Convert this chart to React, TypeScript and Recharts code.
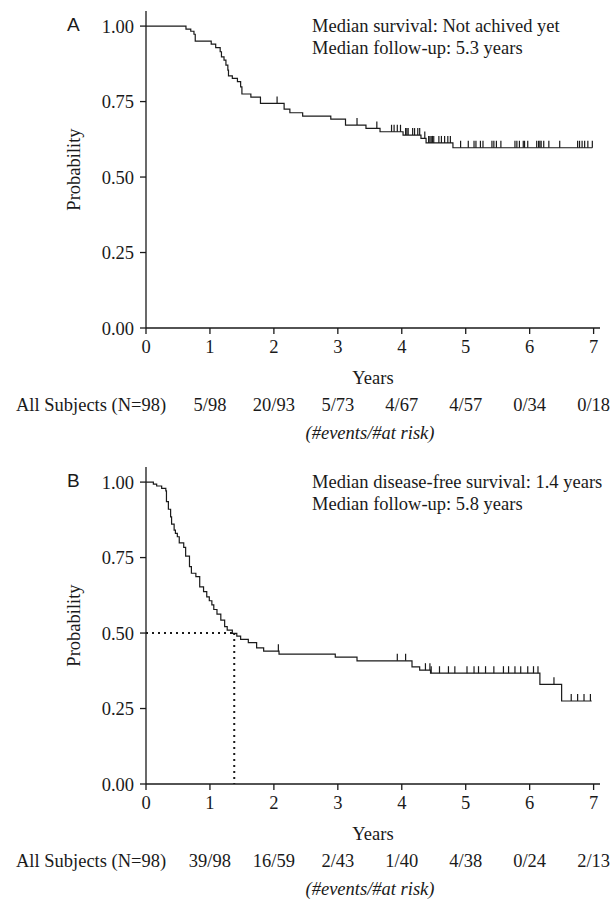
import React from "react";
import {
  ComposedChart,
  Line,
  Scatter,
  XAxis,
  YAxis,
  ReferenceLine
} from "recharts";

// Panel A: overall survival (step times in years, survival after each step)
const stepTimesA = [0, 0.625, 0.7, 0.75, 0.77, 1.02, 1.09, 1.16, 1.18, 1.22, 1.25, 1.28, 1.29, 1.35, 1.43, 1.48, 1.5, 1.64, 1.79, 2.16, 2.25, 2.45, 2.89, 3.12, 3.44, 3.66, 4.02, 4.3, 4.38, 4.8, 6.98];
const stepSurvA = [1, 0.99, 0.983, 0.973, 0.95, 0.94, 0.929, 0.915, 0.898, 0.887, 0.871, 0.854, 0.835, 0.827, 0.816, 0.799, 0.775, 0.765, 0.744, 0.725, 0.713, 0.702, 0.692, 0.672, 0.661, 0.65, 0.639, 0.628, 0.613, 0.597, 0.597];
const censorA = [2.05, 3.3, 3.61, 3.84, 3.88, 3.93, 3.98, 4.06, 4.08, 4.1, 4.17, 4.2, 4.25, 4.28, 4.36, 4.42, 4.44, 4.46, 4.48, 4.5, 4.58, 4.62, 4.67, 4.72, 4.76, 4.92, 5.04, 5.13, 5.16, 5.23, 5.27, 5.41, 5.44, 5.48, 5.55, 5.77, 5.8, 5.84, 5.9, 5.92, 5.97, 6.11, 6.14, 6.16, 6.18, 6.22, 6.3, 6.47, 6.75, 6.78, 6.82, 6.86, 6.91, 6.98];
const riskA = ["5/98", "20/93", "5/73", "4/67", "4/57", "0/34", "0/18"];
const notesA = ["Median survival: Not achived yet", "Median follow-up: 5.3 years"];

// Panel B: disease-free survival
const stepTimesB = [0, 0.115, 0.167, 0.245, 0.31, 0.32, 0.35, 0.385, 0.4, 0.44, 0.46, 0.49, 0.52, 0.59, 0.62, 0.68, 0.71, 0.78, 0.84, 0.9, 0.95, 0.99, 1.03, 1.06, 1.11, 1.17, 1.23, 1.27, 1.35, 1.42, 1.48, 1.6, 1.73, 1.84, 2.08, 2.96, 3.3, 4.16, 4.28, 4.45, 6.16, 6.5, 6.97];
const stepSurvB = [1, 0.993, 0.987, 0.979, 0.971, 0.935, 0.91, 0.885, 0.861, 0.841, 0.83, 0.819, 0.799, 0.784, 0.755, 0.72, 0.698, 0.687, 0.653, 0.637, 0.62, 0.607, 0.593, 0.578, 0.563, 0.543, 0.521, 0.51, 0.499, 0.49, 0.479, 0.468, 0.451, 0.44, 0.43, 0.42, 0.408, 0.388, 0.377, 0.367, 0.33, 0.275, 0.275];
const censorB = [2.07, 3.93, 4.06, 4.37, 4.44, 4.46, 4.59, 4.73, 4.83, 5.02, 5.13, 5.2, 5.31, 5.44, 5.59, 5.67, 5.77, 5.86, 5.97, 6.06, 6.13, 6.38, 6.65, 6.75, 6.85, 6.95];
const riskB = ["39/98", "16/59", "2/43", "1/40", "4/38", "0/24", "2/13"];
const notesB = ["Median disease-free survival: 1.4 years", "Median follow-up: 5.8 years"];
const medianB = 1.38;

const xTicks = [0, 1, 2, 3, 4, 5, 6, 7];
const yTicks = [0, 0.25, 0.5, 0.75, 1];

const CHART_W = 612;
const Y_AXIS_W = 146;
const RIGHT = 12;
const X_MAX = 7.1;
const SERIF = "'Liberation Serif', 'Times New Roman', serif";
const INK = "#1a1a1a";
const FS = 18.5;

const xPx = (t: number) => Y_AXIS_W + (t * (CHART_W - Y_AXIS_W - RIGHT)) / X_MAX;

function survAt(times: number[], surv: number[], t: number) {
  let s = surv[0];
  for (let i = 0; i < times.length; i++) if (times[i] <= t) s = surv[i];
  return s;
}

const CensorMark = (props: any) => {
  const { cx, cy } = props;
  return <line x1={cx} x2={cx} y1={cy} y2={cy - 7} stroke={INK} strokeWidth={1.2} />;
};

interface PanelProps {
  top: number;
  letter: string;
  times: number[];
  surv: number[];
  censor: number[];
  risk: string[];
  notes: string[];
  median?: number;
}

function Panel({ top, letter, times, surv, censor, risk, notes, median }: PanelProps) {
  const steps = times.map((t, i) => ({ t, s: surv[i] }));
  const marks = censor.map((t) => ({ t, s: survAt(times, surv, t) }));
  const tickStyle = { fill: INK, fontSize: FS, fontFamily: SERIF };
  const textStyle = { fontFamily: SERIF, fontSize: FS, color: INK, lineHeight: "20px", whiteSpace: "nowrap" as const };

  return (
    <div style={{ position: "absolute", left: 0, top, width: CHART_W, height: 450 }}>
      <ComposedChart width={CHART_W} height={388} margin={{ top: 11, right: RIGHT, left: 0, bottom: 0 }}>
        <XAxis
          type="number"
          dataKey="t"
          domain={[0, X_MAX]}
          ticks={xTicks}
          allowDataOverflow
          stroke={INK}
          strokeWidth={1.3}
          tickSize={6}
          tickMargin={6}
          tick={tickStyle}
          height={60}
          label={{ value: "Years", position: "insideBottom", offset: 4, fill: INK, fontSize: FS, fontFamily: SERIF }}
        />
        <YAxis
          type="number"
          dataKey="s"
          domain={[0, 1.05]}
          ticks={yTicks}
          allowDataOverflow
          tickFormatter={(v: number) => v.toFixed(2)}
          stroke={INK}
          strokeWidth={1.3}
          tickSize={6}
          tickMargin={6}
          tick={tickStyle}
          width={Y_AXIS_W}
          label={{
            value: "Probability",
            angle: -90,
            position: "insideLeft",
            offset: 73,
            fill: INK,
            fontSize: FS,
            fontFamily: SERIF,
            style: { textAnchor: "middle" }
          }}
        />
        <Line
          data={steps}
          dataKey="s"
          type="stepAfter"
          stroke={INK}
          strokeWidth={1.2}
          dot={false}
          activeDot={false}
          isAnimationActive={false}
        />
        <Scatter data={marks} dataKey="s" shape={CensorMark} isAnimationActive={false} />
        {median !== undefined && (
          <ReferenceLine
            segment={[{ x: 0, y: 0.5 }, { x: median, y: 0.5 }]}
            stroke={INK}
            strokeWidth={2}
            strokeDasharray="2 4"
          />
        )}
        {median !== undefined && (
          <ReferenceLine
            segment={[{ x: median, y: 0.5 }, { x: median, y: 0 }]}
            stroke={INK}
            strokeWidth={2}
            strokeDasharray="2 4"
          />
        )}
      </ComposedChart>

      <div style={{ position: "absolute", left: 67, top: 13, fontFamily: "'Liberation Sans', Arial, sans-serif", fontSize: 19, color: INK, lineHeight: "24px" }}>
        {letter}
      </div>
      <div style={{ ...textStyle, position: "absolute", left: 312, top: 15, lineHeight: "22px" }}>
        {notes.map((n) => (
          <div key={n}>{n}</div>
        ))}
      </div>
      <div style={{ ...textStyle, position: "absolute", left: 16, top: 395 }}>All Subjects (N=98)</div>
      {risk.map((r, i) => (
        <div key={i} style={{ ...textStyle, position: "absolute", left: xPx(i + 1), top: 395, transform: "translateX(-50%)" }}>
          {r}
        </div>
      ))}
      <div style={{ ...textStyle, position: "absolute", left: 370, top: 423, transform: "translateX(-50%)", fontStyle: "italic" }}>
        (#events/#at risk)
      </div>
    </div>
  );
}

export default function App() {
  return (
    <div style={{ position: "absolute", left: 0, top: 0, width: 612, height: 905, background: "#fff" }}>
      <Panel top={0} letter="A" times={stepTimesA} surv={stepSurvA} censor={censorA} risk={riskA} notes={notesA} />
      <Panel top={456} letter="B" times={stepTimesB} surv={stepSurvB} censor={censorB} risk={riskB} notes={notesB} median={medianB} />
    </div>
  );
}
